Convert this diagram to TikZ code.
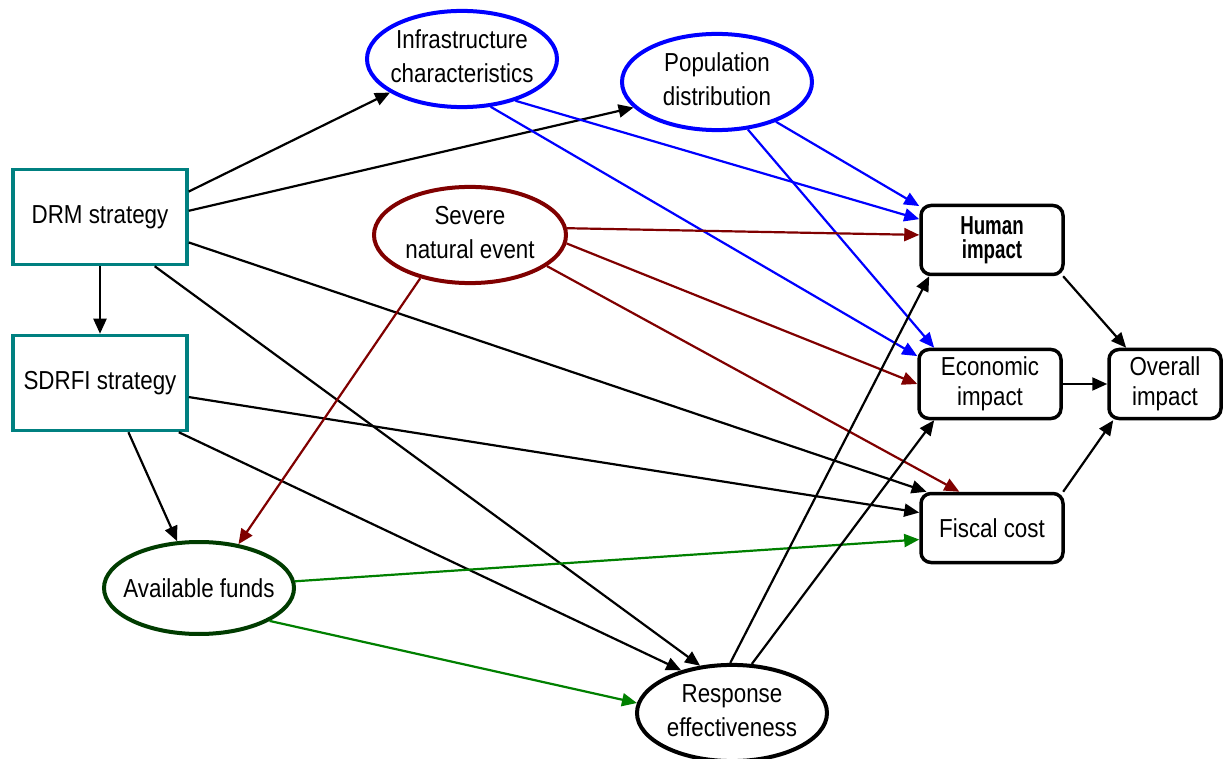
\documentclass[tikz,border=0pt]{standalone}
\usepackage{fontspec}
\setmainfont{Liberation Sans}[FakeStretch=0.86]
\newfontfamily\hfont{Liberation Sans}[FakeStretch=0.72]
\usetikzlibrary{arrows.meta,shapes.geometric}
\definecolor{drmteal}{RGB}{0,128,128}
\definecolor{ellblue}{RGB}{0,0,255}
\definecolor{evred}{RGB}{128,0,0}
\definecolor{fundgreen}{RGB}{0,60,0}
\definecolor{arrgreen}{RGB}{0,128,0}
\newcommand\tl[2]{\begin{tabular}{@{}c@{}}\makebox[100pt]{#1}\\\makebox[100pt]{#2}\end{tabular}}
\begin{document}
\begin{tikzpicture}[x=1pt,y=1pt,
  font=\fontsize{26}{34}\selectfont,
  sqbox/.style={draw=drmteal, line width=3.5pt, minimum width=174pt, minimum height=95pt, inner sep=0pt},
  rbox/.style={draw=black, line width=3.5pt, rounded corners=10pt, minimum width=142pt, minimum height=69pt, inner sep=0pt, align=center, font=\fontsize{26}{30}\selectfont},
  ell/.style={ellipse, line width=4pt, inner sep=0pt, minimum width=190pt, minimum height=92pt},
  arr/.style={-{Triangle[length=15pt,width=13pt]}, line width=2.2pt}]
\useasboundingbox (0,0) rectangle (1224,-759);
\fill[white] (0,0) rectangle (1224,-759);

\node[sqbox] (drm) at (100,-217) {DRM strategy};
\node[sqbox] (sdrfi) at (100,-383) {SDRFI strategy};
\node[ell, draw=ellblue] (infra) at (462,-59) {\tl{Infrastructure}{characteristics}};
\node[ell, draw=ellblue] (pop) at (717,-82) {\tl{Population}{distribution}};
\node[ell, draw=evred, minimum width=192pt, minimum height=96pt] (sev) at (470,-235) {\tl{Severe}{natural event}};
\node[ell, draw=fundgreen] (funds) at (199,-588) {\makebox[100pt]{Available funds}};
\node[ell, draw=black] (resp) at (732,-713) {\tl{Response}{effectiveness}};
\node[rbox, font=\fontsize{26}{24}\selectfont\hfont\bfseries] (human) at (992,-240) {Human\\impact};
\node[rbox] (econ) at (990,-384) {Economic\\impact};
\node[rbox] (fiscal) at (992,-528) {Fiscal cost};
\node[rbox, minimum width=112pt] (overall) at (1165,-384) {Overall\\impact};

\draw[arr] (drm.16) -- (infra.-155);
\draw[arr] (drm.4) -- (pop.-163);
\draw[arr] (drm.south) -- (sdrfi.north);
\draw[arr] (drm.-16) -- (fiscal.151);
\draw[arr] (drm.-42) -- (resp.124);
\draw[arr] (sdrfi.-9) -- (fiscal.168);
\draw[arr] (sdrfi.-32) -- (resp.140);
\draw[arr] (sdrfi.-60) -- (funds.115);

\draw[arr, ellblue] (infra.-38) -- (human.164);
\draw[arr, ellblue] (infra.-59) -- (econ.159);
\draw[arr, ellblue] (pop.-34) -- (human.155);
\draw[arr, ellblue] (pop.-57) -- (econ.147);

\draw[arr, evred] (sev.4) -- (human.176);
\draw[arr, evred] (sev.-5) -- (econ.180);
\draw[arr, evred] (sev.-22) -- (fiscal.132);
\draw[arr, evred] (sev.-139) -- (funds.48);

\draw[arr, arrgreen] (funds.4) -- (fiscal.189);
\draw[arr, arrgreen] (funds.-25) -- (resp.174);

\draw[arr] (resp.92) -- (human.210);
\draw[arr] (resp.68) -- (econ.213);
\draw[arr] (human.-27) -- (overall.137);
\draw[arr] (econ.east) -- (overall.west);
\draw[arr] (fiscal.27) -- (overall.215);
\end{tikzpicture}
\end{document}
